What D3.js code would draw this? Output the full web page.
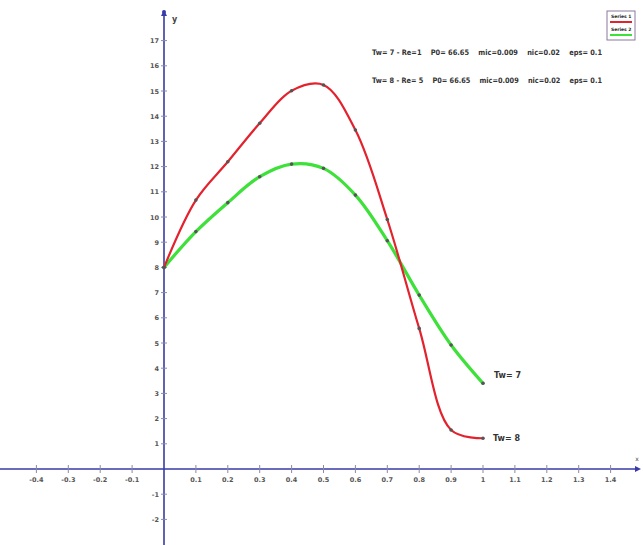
<!DOCTYPE html>
<html>
<head>
<meta charset="utf-8">
<script src="https://cdn.jsdelivr.net/npm/d3@7/dist/d3.min.js"></script>
<style>
  html, body { margin: 0; padding: 0; background: #fff; }
  svg { display: block; }
  text { font-family: "DejaVu Sans", sans-serif; }
</style>
</head>
<body>
<div id="chart"></div>
<script>
// Sample positions along the x axis
const xValues = [0, 0.1, 0.2, 0.3, 0.4, 0.5, 0.6, 0.7, 0.8, 0.9, 1.0];
// Series 1: Tw = 8
const seriesTw8 = [8, 10.67, 12.19, 13.72, 15.01, 15.24, 13.45, 9.9, 5.58, 1.55, 1.22];
// Series 2: Tw = 7
const seriesTw7 = [8, 9.42, 10.57, 11.6, 12.1, 11.93, 10.87, 9.06, 6.9, 4.92, 3.4];
// Axis tick values
const xTicks = [-0.4, -0.3, -0.2, -0.1, 0.1, 0.2, 0.3, 0.4, 0.5, 0.6, 0.7, 0.8, 0.9, 1, 1.1, 1.2, 1.3, 1.4];
const yTicks = [-2, -1, 1, 2, 3, 4, 5, 6, 7, 8, 9, 10, 11, 12, 13, 14, 15, 16, 17];
const seriesNames = ["Series 1", "Series 2"];
const annotations = [
  "Tw= 7 - Re=1    P0= 66.65    mic=0.009    nic=0.02    eps= 0.1",
  "Tw= 8 - Re= 5    P0= 66.65    mic=0.009    nic=0.02    eps= 0.1"
];
const endLabels = ["Tw= 7", "Tw= 8"];

const W = 643, H = 545;
const svg = d3.select("#chart").append("svg").attr("width", W).attr("height", H);

const x = d3.scaleLinear().domain([0, 1]).range([164, 483]);
const y = d3.scaleLinear().domain([0, 17]).range([469, 469 - 17 * 25.2]);

const axisColor = "#3a3aa8";
const tickColor = "#8a8aa0";
const labelColor = "#444";

// horizontal axis line with arrow
svg.append("line").attr("x1", 0).attr("x2", 638).attr("y1", y(0)).attr("y2", y(0))
  .attr("stroke", axisColor).attr("stroke-width", 1.6);
svg.append("path").attr("d", `M641,${y(0)} l-6,-3 l0,6 z`).attr("fill", axisColor);
svg.append("text").attr("x", 637).attr("y", y(0) - 8).attr("font-size", 6).attr("fill", labelColor)
  .attr("text-anchor", "middle").text("x");

// vertical axis line with arrow
svg.append("line").attr("x1", x(0)).attr("x2", x(0)).attr("y1", H).attr("y2", 14)
  .attr("stroke", axisColor).attr("stroke-width", 1.6);
svg.append("path").attr("d", `M${x(0)},10 l-3,6 l6,0 z`).attr("fill", axisColor);
svg.append("circle").attr("cx", x(0)).attr("cy", 12).attr("r", 2).attr("fill", axisColor);
svg.append("text").attr("x", x(0) + 8).attr("y", 22).attr("font-size", 8).attr("font-weight", "bold")
  .attr("fill", labelColor).text("y");

// x ticks and labels
const xt = svg.append("g");
xt.selectAll("line").data(xTicks).join("line")
  .attr("x1", d => x(d)).attr("x2", d => x(d))
  .attr("y1", y(0) - 4).attr("y2", y(0) + 4)
  .attr("stroke", tickColor).attr("stroke-width", 1);
xt.selectAll("text").data(xTicks).join("text")
  .attr("x", d => x(d)).attr("y", y(0) + 13)
  .attr("text-anchor", "middle").attr("font-size", 6.5).attr("font-weight", "bold")
  .attr("fill", "#555").text(d => String(d));

// y ticks and labels
const yt = svg.append("g");
yt.selectAll("line").data(yTicks).join("line")
  .attr("x1", x(0) - 3).attr("x2", x(0) + 3)
  .attr("y1", d => y(d)).attr("y2", d => y(d))
  .attr("stroke", tickColor).attr("stroke-width", 1);
yt.selectAll("text").data(yTicks).join("text")
  .attr("x", x(0) - 5).attr("y", d => y(d) + 2.5)
  .attr("text-anchor", "end").attr("font-size", 6.5).attr("font-weight", "bold")
  .attr("fill", "#555").text(d => String(d));

// curves
const pts = vals => xValues.map((v, i) => [v, vals[i]]);
const line = d3.line().x(d => x(d[0])).y(d => y(d[1])).curve(d3.curveCatmullRom.alpha(0.5));

const series = [
  { vals: seriesTw7, color: "#3ee03a", width: 3.2 },
  { vals: seriesTw8, color: "#e3222e", width: 2.2 }
];
series.forEach(s => {
  svg.append("path").datum(pts(s.vals)).attr("d", line)
    .attr("fill", "none").attr("stroke", s.color).attr("stroke-width", s.width)
    .attr("stroke-linejoin", "round").attr("stroke-linecap", "round");
  svg.append("g").selectAll("circle").data(pts(s.vals)).join("circle")
    .attr("cx", d => x(d[0])).attr("cy", d => y(d[1])).attr("r", 1.8)
    .attr("fill", "#555");
});

// end labels
svg.append("text").attr("x", x(1) + 11).attr("y", y(seriesTw7[10]) - 5)
  .attr("font-size", 8).attr("font-weight", "bold").attr("fill", "#333").text(endLabels[0]);
svg.append("text").attr("x", x(1) + 10).attr("y", y(seriesTw8[10]) + 3)
  .attr("font-size", 8).attr("font-weight", "bold").attr("fill", "#333").text(endLabels[1]);

// parameter annotations
annotations.forEach((t, i) => {
  svg.append("text").attr("x", 372).attr("y", 55 + i * 28)
    .attr("font-size", 7.5).attr("font-weight", "bold").attr("fill", "#333")
    .attr("textLength", 230).attr("lengthAdjust", "spacingAndGlyphs")
    .attr("xml:space", "preserve").text(t);
});

// legend
const lg = svg.append("g").attr("transform", "translate(607,11)");
lg.append("rect").attr("width", 28).attr("height", 29).attr("fill", "#fff")
  .attr("stroke", "#8a7a9a").attr("stroke-width", 1);
const legendColors = ["#e3222e", "#3ee03a"];
seriesNames.forEach((n, i) => {
  lg.append("text").attr("x", 4).attr("y", 7 + i * 13).attr("font-size", 4.5)
    .attr("font-weight", "bold").attr("fill", "#222").text(n);
  lg.append("line").attr("x1", 3).attr("x2", 25).attr("y1", 11 + i * 13).attr("y2", 11 + i * 13)
    .attr("stroke", legendColors[i]).attr("stroke-width", 2);
});
</script>
</body>
</html>
